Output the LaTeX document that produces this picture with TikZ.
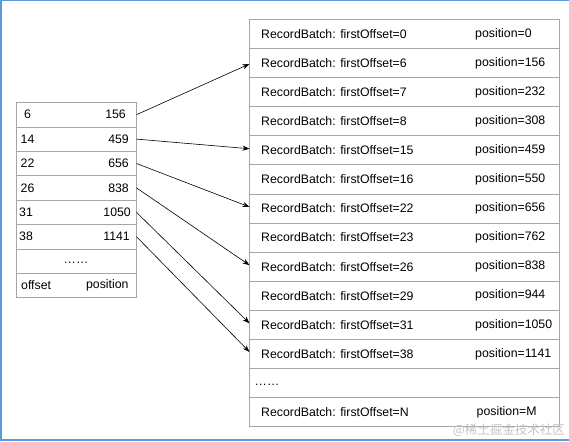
\documentclass[tikz,border=0pt]{standalone}
\usepackage{fontspec}
\setmainfont{Liberation Sans}
\newfontfamily\cjkfont{Noto Sans CJK SC}
\usetikzlibrary{arrows.meta}
\definecolor{gridgray}{HTML}{A6A6A6}
\definecolor{framebl}{HTML}{5A9BE0}
\definecolor{wmgray}{HTML}{C4C4C4}
\begin{document}
\begin{tikzpicture}[x=1pt,y=-1pt,
  lrowbox/.style={draw=gridgray,line width=0.8pt,minimum width=120.5pt,minimum height=24.4pt,inner sep=0pt,outer sep=0pt},
  rrowbox/.style={draw=gridgray,line width=0.8pt,minimum width=309.5pt,minimum height=29.1pt,inner sep=0pt,outer sep=0pt},
  txt/.style={inner sep=0pt,font=\fontsize{12.3}{14}\selectfont},
  arr/.style={line width=0.6pt,-{Stealth[length=7pt,width=5pt]}}]
\useasboundingbox (0,0) rectangle (569,441);
\fill[white] (0,0) rectangle (569,441);
% frame
\draw[framebl,line width=1.5pt] (0.75,441) -- (0.75,0.75) -- (569,0.75);
\draw[framebl,line width=1.5pt] (0,440.2) -- (569,440.2);
% left table
\foreach \i in {1,...,8}{
  \node[lrowbox] (l\i) at (76.25,{102.5+24.4*(\i-0.5)}) {};
}
\node[txt,anchor=west] (la1) at (24,114.7) {6};
\node[txt,anchor=east] (lb1) at (126,114.7) {156};
\node[txt,anchor=west] (la2) at (20.5,139.1) {14};
\node[txt,anchor=east] (lb2) at (129,139.1) {459};
\node[txt,anchor=west] (la3) at (20.5,163.5) {22};
\node[txt,anchor=east] (lb3) at (129,163.5) {656};
\node[txt,anchor=west] (la4) at (20.5,187.9) {26};
\node[txt,anchor=east] (lb4) at (129,187.9) {838};
\node[txt,anchor=west] (la5) at (19,212.3) {31};
\node[txt,anchor=east] (lb5) at (131,212.3) {1050};
\node[txt,anchor=west] (la6) at (19,236.7) {38};
\node[txt,anchor=east] (lb6) at (130,236.7) {1141};
\node[txt] (ldots) at (76,262.5) {……};
\node[txt,anchor=west] (la8) at (21,285.5) {offset};
\node[txt,anchor=east] (lb8) at (128.7,285.5) {position};
% right table
\foreach \i in {1,...,14}{
  \node[rrowbox] (r\i) at (404.25,{19.3+29.1*(\i-0.5)}) {};
}
\foreach \i/\f/\p in {1/0/0,2/6/156,3/7/232,4/8/308,5/15/459,6/16/550,7/22/656,8/23/762,9/26/838,10/29/944,11/31/1050,12/38/1141}{
  \node[txt,anchor=west] (ra\i) at ([xshift=11.5pt]r\i.west) {RecordBatch: firstOffset=\f};
  \node[txt,anchor=west] (rb\i) at ([xshift=225.5pt]r\i.west) {position=\p};
}
\node[txt,anchor=west] (rdots) at ([xshift=5pt,yshift=-2pt]r13.west) {……};
\node[txt,anchor=west] (ra14) at ([xshift=11.5pt]r14.west) {RecordBatch: firstOffset=N};
\node[txt,anchor=west] (rb14) at ([xshift=227pt]r14.west) {position=M};
% arrows
\draw[arr] (l1.east) -- ([yshift=-1pt]r2.west);
\draw[arr] (l2.east) -- ([yshift=1.5pt]r5.west);
\draw[arr] (l3.east) -- ([yshift=1.5pt]r7.west);
\draw[arr] (l4.east) -- ([yshift=1.5pt]r9.west);
\draw[arr] (l5.east) -- ([yshift=1.5pt]r11.west);
\draw[arr] (l6.east) -- ([yshift=2pt]r12.west);
% watermark
\node[inner sep=0pt,anchor=east,text=wmgray,font=\cjkfont\fontsize{12.5}{14}\selectfont] (wm) at (565,430) {@稀土掘金技术社区};
\end{tikzpicture}
\end{document}
